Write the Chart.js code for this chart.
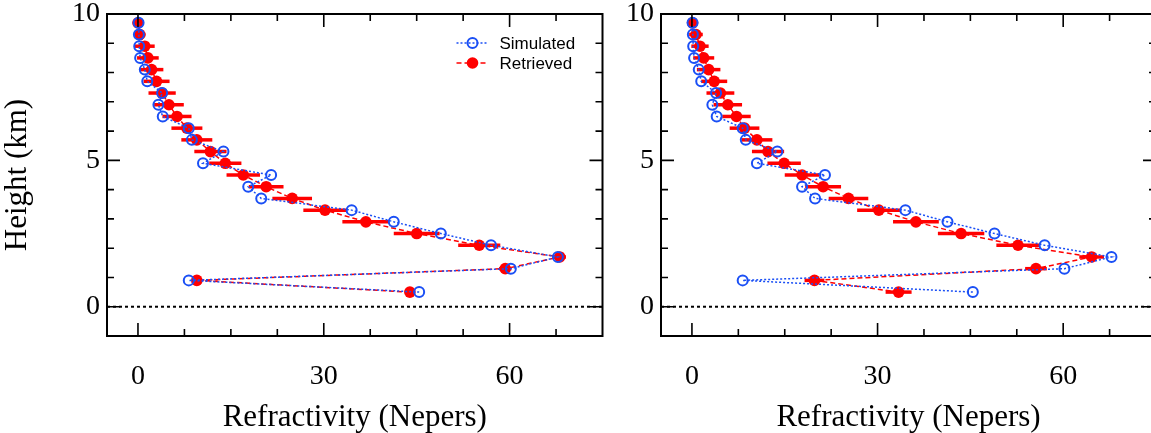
<!DOCTYPE html>
<html>
<head>
<meta charset="utf-8">
<script src="https://cdn.jsdelivr.net/npm/chart.js@4.4.0/dist/chart.umd.min.js"></script>
<style>
  html, body { margin: 0; padding: 0; background: #fff; overflow: hidden; }
  body { width: 1151px; height: 433px; position: relative; }
  canvas { position: absolute; top: 0; }
  #left { left: 0; }
  #right { left: 615px; }
</style>
</head>
<body>
<canvas id="left" width="615" height="433"></canvas>
<canvas id="right" width="560" height="433"></canvas>
<script>
// heights of the retrieval levels (km)
const heights = [0.5, 0.9, 1.3, 1.7, 2.1, 2.5, 2.9, 3.3, 3.7, 4.1, 4.5, 4.9,
                 5.3, 5.7, 6.1, 6.5, 6.9, 7.3, 7.7, 8.1, 8.5, 8.9, 9.3, 9.7];

// simulated profile (same in both panels)
const simulated = [45.4, 8.2, 60.2, 67.8, 57.0, 48.9, 41.3, 34.5, 19.9, 17.8, 21.5, 10.5,
                   13.8, 8.7, 8.2, 4.0, 3.3, 3.9, 1.5, 1.1, 0.35, 0.2, 0.15, 0.1];

// retrieved profiles and their errors, left and right panel
const retrievedLeft = [43.9, 9.5, 59.3, 68.1, 55.1, 45.0, 36.8, 30.2, 24.9, 20.7, 17.0, 14.1,
                       11.7, 9.5, 7.9, 6.3, 5.0, 3.9, 3.0, 2.2, 1.6, 1.1, 0.3, 0.0];
const errLeft = [0.8, 0.8, 1.0, 1.0, 3.4, 3.7, 3.8, 3.5, 3.2, 2.8, 2.7, 2.6,
                 2.6, 2.5, 2.5, 2.35, 2.4, 2.2, 2.1, 1.9, 1.75, 1.6, 0.9, 0.5];

const retrievedRight = [33.4, 19.8, 55.6, 64.6, 52.7, 43.5, 36.2, 30.2, 25.3, 21.2, 17.8, 14.9,
                        12.3, 10.5, 8.5, 7.2, 5.8, 4.6, 3.6, 2.7, 1.9, 1.3, 0.65, 0.1];
const errRight = [2.1, 1.6, 1.75, 2.0, 3.5, 3.75, 3.7, 3.5, 3.2, 2.9, 2.8, 2.7,
                  2.6, 2.5, 2.4, 2.3, 2.3, 2.25, 2.1, 1.9, 1.7, 1.4, 1.1, 0.5];

const xLabels = [0, 30, 60];
const yLabels = [0, 5, 10];

const BLUE = '#1a4ff5';
const RED = '#ff0000';
const SERIF = '"Liberation Serif", "Times New Roman", serif';

// frame, inward ticks and dotted zero line
const frame = {
  id: 'frame',
  beforeDatasetsDraw(chart) {
    const {ctx, chartArea: a, scales: {y}} = chart;
    const y0 = y.getPixelForValue(0);
    ctx.save();
    ctx.strokeStyle = '#000';
    ctx.lineWidth = 2;
    ctx.setLineDash([3, 3]);
    ctx.beginPath();
    ctx.moveTo(a.left, y0);
    ctx.lineTo(a.right, y0);
    ctx.stroke();
    ctx.restore();
  },
  afterDraw(chart) {
    const {ctx, chartArea: a, scales: {x, y}} = chart;
    ctx.save();
    ctx.strokeStyle = '#000';
    ctx.lineWidth = 1.6;
    ctx.beginPath();
    x.ticks.forEach(t => {
      const px = x.getPixelForValue(t.value);
      if (px <= a.left + 1 || px >= a.right - 1) return;
      const len = xLabels.includes(t.value) ? 13 : 7;
      ctx.moveTo(px, a.bottom); ctx.lineTo(px, a.bottom - len);
      ctx.moveTo(px, a.top); ctx.lineTo(px, a.top + len);
    });
    y.ticks.forEach(t => {
      const py = y.getPixelForValue(t.value);
      if (py <= a.top + 1 || py >= a.bottom - 1) return;
      const len = yLabels.includes(t.value) ? 13 : 7;
      ctx.moveTo(a.left, py); ctx.lineTo(a.left + len, py);
      ctx.moveTo(a.right, py); ctx.lineTo(a.right - len, py);
    });
    ctx.stroke();
    ctx.lineWidth = 2;
    ctx.strokeRect(a.left, a.top, a.right - a.left, a.bottom - a.top);
    ctx.restore();
  }
};

// horizontal error bars on the retrieved points
const errorBars = {
  id: 'errorBars',
  beforeDatasetsDraw(chart) {
    const {ctx, scales: {x, y}} = chart;
    ctx.save();
    ctx.strokeStyle = RED;
    ctx.lineWidth = 3.5;
    chart.data.datasets.forEach(ds => {
      if (!ds.xErr) return;
      ds.data.forEach((p, i) => {
        const py = y.getPixelForValue(p.y);
        ctx.beginPath();
        ctx.moveTo(x.getPixelForValue(p.x - ds.xErr[i]), py);
        ctx.lineTo(x.getPixelForValue(p.x + ds.xErr[i]), py);
        ctx.stroke();
      });
    });
    ctx.restore();
  }
};

// legend with line + marker sample, top right of the left panel
const legendBox = {
  id: 'legendBox',
  afterDraw(chart) {
    const {ctx, chartArea: a} = chart;
    const x0 = a.right - 146;
    ctx.save();
    ctx.font = '17px "Liberation Sans", Arial, sans-serif';
    ctx.textBaseline = 'middle';
    chart.data.datasets.forEach((ds, i) => {
      const yy = a.top + 29 + i * 20;
      ctx.strokeStyle = ds.borderColor;
      ctx.lineWidth = 1.5;
      ctx.setLineDash(ds.borderDash);
      ctx.beginPath();
      ctx.moveTo(x0, yy);
      ctx.lineTo(x0 + 32, yy);
      ctx.stroke();
      ctx.setLineDash([]);
      ctx.beginPath();
      ctx.arc(x0 + 16, yy, ds.pointRadius, 0, Math.PI * 2);
      ctx.fillStyle = ds.pointBackgroundColor;
      ctx.fill();
      if (ds.pointBorderWidth) {
        ctx.lineWidth = ds.pointBorderWidth;
        ctx.strokeStyle = ds.pointBorderColor;
        ctx.stroke();
      }
      ctx.fillStyle = '#000';
      ctx.fillText(ds.label, x0 + 43, yy + 1);
    });
    ctx.restore();
  }
};

function makeChart(id, retrieved, errs, withTitle, yWidth, padRight) {
  const plugins = [frame, errorBars];
  if (withTitle) plugins.push(legendBox);
  return new Chart(document.getElementById(id), {
    type: 'line',
    data: {
      datasets: [{
        label: 'Simulated',
        data: heights.map((h, i) => ({x: simulated[i], y: h})),
        borderColor: BLUE,
        borderWidth: 1.5,
        borderDash: [2, 2],
        pointRadius: 5,
        pointBorderWidth: 2,
        pointBorderColor: BLUE,
        pointBackgroundColor: 'rgba(255,255,255,0)',
        tension: 0,
        order: 0
      }, {
        label: 'Retrieved',
        data: heights.map((h, i) => ({x: retrieved[i], y: h})),
        xErr: errs,
        borderColor: RED,
        borderWidth: 1.5,
        borderDash: [5, 3],
        pointRadius: 5.8,
        pointBorderWidth: 0,
        pointBorderColor: RED,
        pointBackgroundColor: RED,
        tension: 0,
        order: 1
      }]
    },
    options: {
      responsive: false,
      animation: false,
      layout: { padding: { left: 0, right: padRight, top: 14, bottom: 0 } },
      plugins: { legend: { display: false }, tooltip: { enabled: false } },
      scales: {
        x: {
          type: 'linear',
          min: -5,
          max: 75,
          afterFit: s => {
            s.height = 97;
            s.paddingLeft = 0;
            s.paddingRight = 0;
          },
          grid: { display: false, drawTicks: false },
          border: { display: false },
          ticks: {
            stepSize: 7.5,
            includeBounds: false,
            maxTicksLimit: 20,
            autoSkip: false,
            maxRotation: 0,
            padding: 27,
            color: '#000',
            font: { family: SERIF, size: 28, lineHeight: 1 },
            callback: v => xLabels.includes(v) ? String(v) : ''
          },
          title: {
            display: true,
            text: 'Refractivity (Nepers)',
            color: '#000',
            padding: { top: 0, bottom: 0 },
            font: { family: SERIF, size: 31, lineHeight: 1 }
          }
        },
        y: {
          type: 'linear',
          min: -1,
          max: 10,
          afterFit: s => {
            s.width = yWidth;
            s.paddingTop = 0;
            s.paddingBottom = 0;
          },
          grid: { display: false, drawTicks: false },
          border: { display: false },
          ticks: {
            stepSize: 1,
            maxTicksLimit: 20,
            autoSkip: false,
            padding: 7,
            color: '#000',
            font: { family: SERIF, size: 28, lineHeight: 1 },
            callback: v => yLabels.includes(v) ? String(v) : ''
          },
          title: {
            display: withTitle,
            text: 'Height (km)',
            color: '#000',
            padding: { top: 2, bottom: 0 },
            font: { family: SERIF, size: 31, lineHeight: 1 }
          }
        }
      }
    },
    plugins: plugins
  });
}

makeChart('left', retrievedLeft, errLeft, true, 107, 12.5);
makeChart('right', retrievedRight, errRight, false, 46, 19);
</script>
</body>
</html>
